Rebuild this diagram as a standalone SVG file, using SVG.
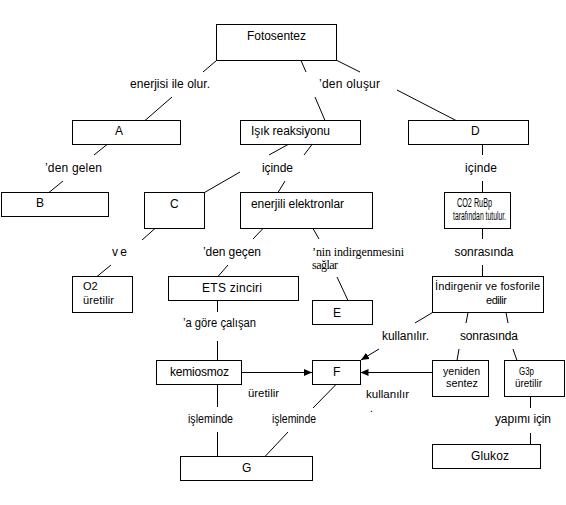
<svg xmlns="http://www.w3.org/2000/svg" width="566" height="505" viewBox="0 0 566 505">
<style>
.box{fill:#fff;stroke:#000;stroke-width:1}
.t{font-family:"Liberation Sans",Arial,sans-serif;font-size:12px;fill:#000}
.s{font-size:10.5px}
.m{font-size:11px}
.serif{font-family:"Liberation Serif","Times New Roman",serif;font-size:12px;fill:#000}
.c line{stroke:#000;stroke-width:1}
</style>
<defs>
<marker id="ah" markerUnits="userSpaceOnUse" markerWidth="9" markerHeight="7" refX="8" refY="3.5" orient="auto">
<path d="M0,0 L8,3.5 L0,7 z" fill="#000"/>
</marker>
</defs>
<rect width="566" height="505" fill="#fff"/>
<g id="connectors" class="c">
<line x1="216.5" y1="60.5" x2="203" y2="72"/>
<line x1="172" y1="97" x2="145" y2="120.5"/>
<line x1="301" y1="60.5" x2="306" y2="72"/>
<line x1="315" y1="97" x2="325" y2="120.5"/>
<line x1="337" y1="60.5" x2="360" y2="72"/>
<line x1="397" y1="90" x2="456" y2="120.5"/>
<line x1="107" y1="144.5" x2="94" y2="155"/>
<line x1="63" y1="181" x2="49" y2="192.5"/>
<line x1="288" y1="144.5" x2="269" y2="155"/>
<line x1="312" y1="144.5" x2="304" y2="155"/>
<line x1="240" y1="172" x2="204.5" y2="192.5"/>
<line x1="285" y1="181" x2="278" y2="192.5"/>
<line x1="482.5" y1="144.5" x2="482.5" y2="155"/>
<line x1="482.5" y1="181" x2="482.5" y2="192.5"/>
<line x1="155" y1="228.5" x2="142" y2="240"/>
<line x1="263" y1="228.5" x2="253" y2="239"/>
<line x1="313" y1="228.5" x2="319" y2="239"/>
<line x1="482.5" y1="228.5" x2="482.5" y2="239"/>
<line x1="111" y1="265" x2="97" y2="276.5"/>
<line x1="228" y1="265" x2="218" y2="276.5"/>
<line x1="337" y1="277" x2="348" y2="300.5"/>
<line x1="482.5" y1="265" x2="482.5" y2="276.5"/>
<line x1="217.5" y1="300.5" x2="217.5" y2="312"/>
<line x1="432.5" y1="312.5" x2="415" y2="323"/>
<line x1="468" y1="312.5" x2="466" y2="323"/>
<line x1="506" y1="312.5" x2="508" y2="323"/>
<line x1="379" y1="349" x2="361" y2="360" marker-end="url(#ah)"/>
<line x1="459" y1="349" x2="457" y2="360.5"/>
<line x1="513" y1="349" x2="517" y2="360.5"/>
<line x1="217.5" y1="341" x2="217.5" y2="360.5"/>
<line x1="241.5" y1="372.5" x2="312" y2="372.5" marker-end="url(#ah)"/>
<line x1="432.5" y1="372.5" x2="360.5" y2="372.5" marker-end="url(#ah)"/>
<line x1="217.5" y1="384.5" x2="217.5" y2="407"/>
<line x1="217.5" y1="432" x2="217.5" y2="456.5"/>
<line x1="336" y1="384.5" x2="313" y2="408"/>
<line x1="288" y1="432" x2="265" y2="456.5"/>
<line x1="530.5" y1="396.5" x2="530.5" y2="408"/>
<line x1="530.5" y1="433" x2="530.5" y2="444.5"/>
</g>
<g id="labels">
<text class="t" x="130" y="88" textLength="80">enerjisi ile olur.</text>
<text class="t" x="319" y="88" textLength="61">’den oluşur</text>
<text class="t" x="45" y="172" textLength="57">’den gelen</text>
<text class="t" x="262" y="172" textLength="31">içinde</text>
<text class="t" x="465" y="172" textLength="32">içinde</text>
<text class="t" x="112" y="256" textLength="15">ve</text>
<text class="t" x="203" y="256" textLength="58">’den geçen</text>
<text class="serif" x="312" y="256" textLength="92">’nin indirgenmesini</text>
<text class="serif" x="312" y="269" textLength="26">sağlar</text>
<text class="t" x="454.5" y="256" textLength="59">sonrasında</text>
<text class="t" x="183" y="327" textLength="73" lengthAdjust="spacingAndGlyphs">’a göre çalışan</text>
<text class="t" x="382" y="340" textLength="47">kullanılır.</text>
<text class="t" x="460" y="340" textLength="58">sonrasında</text>
<text class="t s" x="248" y="397" textLength="31" lengthAdjust="spacingAndGlyphs">üretilir</text>
<text class="t s" x="366" y="398" textLength="43" lengthAdjust="spacingAndGlyphs">kullanılır</text>
<text class="t s" x="370" y="412">.</text>
<text class="t" x="188" y="423" textLength="45" lengthAdjust="spacingAndGlyphs">işleminde</text>
<text class="t" x="272" y="423" textLength="44" lengthAdjust="spacingAndGlyphs">işleminde</text>
<text class="t" x="495" y="423" textLength="56">yapımı için</text>
</g>
<g id="fotosentez"><rect class="box" x="216.5" y="24.5" width="120" height="36"/><text class="t" x="247" y="40" textLength="59">Fotosentez</text></g>
<g id="a"><rect class="box" x="72.5" y="120.5" width="108" height="24"/><text class="t" x="115" y="135">A</text></g>
<g id="isik"><rect class="box" x="240.5" y="120.5" width="120" height="24"/><text class="t" x="251" y="135" textLength="79">Işık reaksiyonu</text></g>
<g id="d"><rect class="box" x="408.5" y="120.5" width="120" height="24"/><text class="t" x="471" y="135">D</text></g>
<g id="b"><rect class="box" x="1.5" y="192.5" width="107" height="24"/><text class="t" x="36" y="207">B</text></g>
<g id="c"><rect class="box" x="144.5" y="192.5" width="60" height="36"/><text class="t" x="170" y="208">C</text></g>
<g id="enerjili"><rect class="box" x="240.5" y="192.5" width="132" height="36"/><text class="t" x="251" y="208" textLength="93">enerjili elektronlar</text></g>
<g id="co2"><rect class="box" x="444.5" y="192.5" width="66" height="36"/><text class="t" font-size="11" x="457" y="207" textLength="35" lengthAdjust="spacingAndGlyphs">CO2 RuBp</text><text class="t" font-size="11" x="453" y="219.5" textLength="53" lengthAdjust="spacingAndGlyphs">tarafından tutulur.</text></g>
<g id="o2"><rect class="box" x="72.5" y="276.5" width="60" height="36"/><text class="t m" x="83" y="290">O2</text><text class="t m" x="83" y="303.5" textLength="31">üretilir</text></g>
<g id="ets"><rect class="box" x="168.5" y="276.5" width="130" height="24"/><text class="t" x="202" y="292" textLength="60">ETS zinciri</text></g>
<g id="e"><rect class="box" x="312.5" y="300.5" width="60" height="24"/><text class="t" x="333" y="317">E</text></g>
<g id="indirgenir"><rect class="box" x="432.5" y="276.5" width="111" height="36"/><text class="t m" x="435" y="290" textLength="105">İndirgenir ve fosforile</text><text class="t m" x="486" y="303.5" textLength="21">edilir</text></g>
<g id="kemiosmoz"><rect class="box" x="156.5" y="360.5" width="85" height="24"/><text class="t" x="170" y="376" textLength="59">kemiosmoz</text></g>
<g id="f"><rect class="box" x="312.5" y="360.5" width="48" height="24"/><text class="t" x="333" y="376">F</text></g>
<g id="yeniden"><rect class="box" x="432.5" y="360.5" width="56" height="36"/><text class="t s" x="443" y="374.5" textLength="37" lengthAdjust="spacingAndGlyphs">yeniden</text><text class="t s" x="446" y="387" textLength="32" lengthAdjust="spacingAndGlyphs">sentez</text></g>
<g id="g3p"><rect class="box" x="504.5" y="360.5" width="60" height="36"/><text class="t s" x="519" y="374.5" textLength="15" lengthAdjust="spacingAndGlyphs">G3p</text><text class="t s" x="515" y="387" textLength="27" lengthAdjust="spacingAndGlyphs">üretilir</text></g>
<g id="g"><rect class="box" x="180.5" y="456.5" width="132" height="24"/><text class="t" x="242" y="472">G</text></g>
<g id="glukoz"><rect class="box" x="432.5" y="444.5" width="108" height="24"/><text class="t" x="471" y="460" textLength="38">Glukoz</text></g>
</svg>
